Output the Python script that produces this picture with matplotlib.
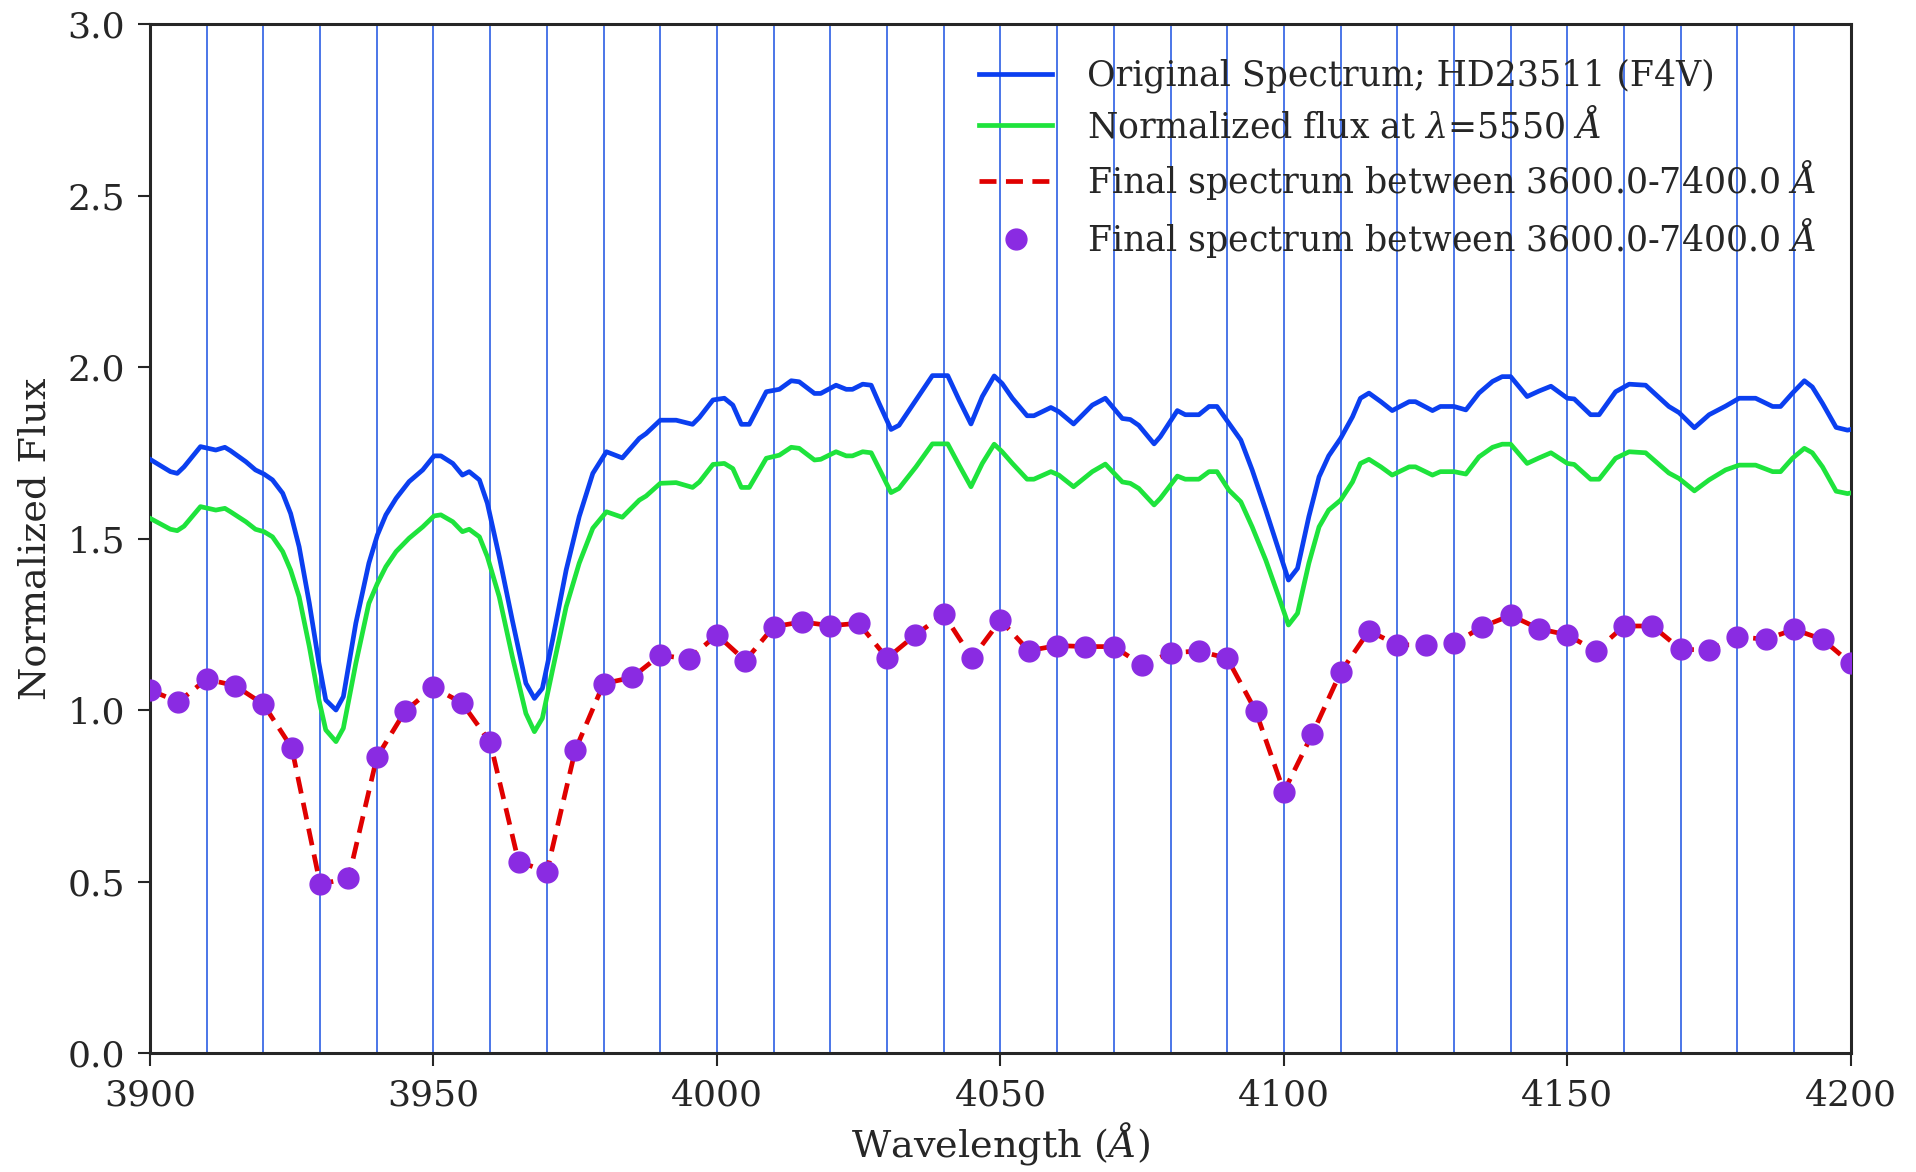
import numpy as np
import matplotlib
matplotlib.use("Agg")
import matplotlib.pyplot as plt

# Original spectrum (blue)
blue_wave = [
    3900.0, 3903.6, 3904.8, 3906.0, 3908.9, 3911.6, 3913.2, 3914.2, 3916.9, 3918.6,
    3920.1, 3921.6, 3923.4, 3924.8, 3926.3, 3928.1, 3929.8, 3931.0, 3932.8, 3934.1,
    3936.3, 3938.6, 3940.1, 3941.6, 3943.4, 3945.7, 3948.1, 3950.1, 3951.3, 3953.4,
    3955.1, 3956.3, 3958.1, 3959.5, 3961.6, 3963.9, 3966.3, 3967.8, 3969.2, 3971.0,
    3973.4, 3975.7, 3978.1,
    3980.5, 3983.3, 3986.3, 3987.5, 3990.0, 3992.8, 3995.7, 3996.9, 3999.3, 4001.3,
    4002.8, 4004.3, 4005.7, 4008.7, 4011.0, 4013.1, 4014.5, 4017.2, 4018.3, 4021.0,
    4022.8, 4023.9, 4025.7, 4027.2, 4028.6, 4030.7, 4032.1, 4035.1, 4038.0, 4040.7,
    4042.7, 4044.8, 4046.8, 4048.9, 4050.3, 4052.1, 4054.7, 4055.9, 4058.9,
    4060.3, 4062.9, 4066.2, 4068.5, 4071.5, 4072.9, 4074.4, 4077.1, 4078.2, 4081.2,
    4082.6, 4085.0, 4086.8, 4088.2, 4090.3, 4092.4, 4094.4, 4096.8, 4099.1, 4100.8,
    4102.4, 4104.4, 4106.2, 4107.9, 4110.0, 4112.1, 4113.5, 4115.0, 4117.1, 4119.1,
    4122.1, 4123.2, 4126.2, 4127.6, 4130.0,
    4132.1, 4134.4, 4136.8, 4138.5, 4140.0, 4142.9, 4145.0, 4147.1, 4150.0, 4151.2,
    4154.1, 4155.6, 4158.5, 4160.9, 4163.8, 4167.9, 4169.7, 4172.4, 4175.0, 4177.9,
    4180.3, 4183.2, 4186.2, 4187.6, 4189.7, 4191.8, 4193.2, 4195.0, 4197.4, 4199.4,
    4200.0,
]
blue_flux = [
    1.731, 1.695, 1.690, 1.709, 1.768, 1.758, 1.766, 1.756, 1.724, 1.700,
    1.688, 1.671, 1.632, 1.573, 1.476, 1.311, 1.136, 1.029, 1.000, 1.039,
    1.253, 1.428, 1.510, 1.569, 1.617, 1.666, 1.700, 1.741, 1.741, 1.719,
    1.685, 1.695, 1.671, 1.603, 1.447, 1.262, 1.078, 1.034, 1.063, 1.204,
    1.408, 1.564, 1.690,
    1.753, 1.735, 1.792, 1.806, 1.845, 1.845, 1.833, 1.853, 1.904, 1.909,
    1.889, 1.833, 1.833, 1.928, 1.935, 1.960, 1.957, 1.923, 1.923, 1.947,
    1.935, 1.935, 1.950, 1.947, 1.894, 1.818, 1.830, 1.904, 1.975, 1.975,
    1.904, 1.834, 1.914, 1.974, 1.952, 1.909, 1.858, 1.858, 1.882,
    1.870, 1.834, 1.889, 1.909, 1.850, 1.847, 1.830, 1.776, 1.797, 1.873,
    1.861, 1.861, 1.885, 1.885, 1.836, 1.787, 1.700, 1.583, 1.466, 1.379,
    1.413, 1.564, 1.680, 1.741, 1.792, 1.855, 1.909, 1.924, 1.899, 1.873,
    1.899, 1.899, 1.873, 1.885, 1.885,
    1.875, 1.924, 1.958, 1.972, 1.972, 1.914, 1.930, 1.944, 1.909, 1.907,
    1.861, 1.861, 1.928, 1.950, 1.947, 1.885, 1.867, 1.823, 1.861, 1.886,
    1.909, 1.909, 1.885, 1.885, 1.924, 1.960, 1.942, 1.894, 1.824, 1.816,
    1.818,
]
# Normalized flux (green), same wavelengths
green_flux = [
    1.559, 1.527, 1.523, 1.536, 1.593, 1.583, 1.588, 1.578, 1.549, 1.527,
    1.520, 1.505, 1.462, 1.408, 1.330, 1.185, 1.029, 0.942, 0.908, 0.947,
    1.136, 1.311, 1.369, 1.418, 1.462, 1.501, 1.534, 1.566, 1.569, 1.549,
    1.520, 1.527, 1.505, 1.447, 1.330, 1.156, 0.990, 0.937, 0.976, 1.117,
    1.301, 1.428, 1.530,
    1.578, 1.562, 1.612, 1.624, 1.661, 1.663, 1.649, 1.665, 1.716, 1.719,
    1.704, 1.649, 1.649, 1.734, 1.743, 1.766, 1.763, 1.729, 1.731, 1.753,
    1.741, 1.741, 1.753, 1.750, 1.704, 1.634, 1.646, 1.709, 1.776, 1.776,
    1.714, 1.651, 1.719, 1.775, 1.753, 1.719, 1.673, 1.673, 1.695,
    1.685, 1.651, 1.695, 1.717, 1.665, 1.661, 1.646, 1.598, 1.617, 1.682,
    1.673, 1.673, 1.695, 1.695, 1.641, 1.607, 1.534, 1.437, 1.330, 1.248,
    1.282, 1.428, 1.534, 1.583, 1.612, 1.665, 1.719, 1.731, 1.709, 1.685,
    1.709, 1.709, 1.685, 1.695, 1.695,
    1.688, 1.738, 1.766, 1.775, 1.775, 1.719, 1.735, 1.750, 1.719, 1.716,
    1.673, 1.673, 1.734, 1.753, 1.750, 1.691, 1.675, 1.639, 1.671, 1.700,
    1.714, 1.714, 1.695, 1.695, 1.734, 1.763, 1.750, 1.709, 1.638, 1.631,
    1.633,
]
# Final spectrum, sampled every 5 A
final_wave = list(range(3900, 4201, 5))
final_flux = [
    1.058, 1.024, 1.090, 1.071, 1.017, 0.890, 0.493, 0.509, 0.862, 0.997,
    1.066, 1.021, 0.906, 0.558, 0.529, 0.883, 1.077, 1.095, 1.160, 1.149,
    1.219, 1.144, 1.243, 1.257, 1.246, 1.253, 1.151, 1.219, 1.279, 1.151,
    1.262, 1.173, 1.188, 1.185, 1.185, 1.131, 1.167, 1.172, 1.151, 0.998,
    0.762, 0.930, 1.110, 1.231, 1.190, 1.190, 1.194, 1.243, 1.276, 1.237,
    1.219, 1.172, 1.245, 1.245, 1.177, 1.175, 1.214, 1.206, 1.235, 1.206,
    1.136,
]
# vertical marker lines
grid_waves = list(range(3910, 4200, 10))

plt.rcParams["font.family"] = ["DejaVu Serif"]
plt.rcParams["mathtext.fontset"] = "dejavuserif"

fig = plt.figure(figsize=(19.16, 11.72), dpi=100)
ax = fig.add_axes([0.0783, 0.1015, 0.8877, 0.878])

for w in grid_waves:
    ax.axvline(w, color="#3d6be6", lw=1.3, zorder=1)

ax.plot(blue_wave, blue_flux, color="#0b3ff0", lw=3.4,
        label="Original Spectrum; HD23511 (F4V)", zorder=3)
ax.plot(blue_wave, green_flux, color="#1ee33c", lw=3.4,
        label=r"Normalized flux at $\lambda$=5550 $\AA$", zorder=3)
ax.plot(final_wave, final_flux, color="#e00000", lw=3.4, ls="--",
        dashes=(3.6, 2.0), label=r"Final spectrum between 3600.0-7400.0 $\AA$", zorder=4)
ax.plot(final_wave, final_flux, ls="none", marker="o", ms=15,
        color="#8a2be2", label=r"Final spectrum between 3600.0-7400.0 $\AA$", zorder=5)

ax.set_xlim(3900, 4200)
ax.set_ylim(0, 3.0)
ax.set_xticks([3900, 3950, 4000, 4050, 4100, 4150, 4200])
ax.set_yticks([0.0, 0.5, 1.0, 1.5, 2.0, 2.5, 3.0])
ax.set_yticklabels(["0.0", "0.5", "1.0", "1.5", "2.0", "2.5", "3.0"])
ax.tick_params(direction="out", length=9, width=1.5, labelsize=26,
               colors="#262626", pad=9)
for s in ax.spines.values():
    s.set_linewidth(2.2)
    s.set_color("#262626")

ax.set_xlabel(r"Wavelength ($\AA$)", fontsize=27.5, color="#262626", labelpad=6)
ax.set_ylabel("Normalized Flux", fontsize=27.5, color="#262626", labelpad=10)

ax.legend(loc="upper right", frameon=False, fontsize=25, handlelength=2.1,
          handletextpad=1.0, labelspacing=0.4, borderaxespad=0.6,
          labelcolor="#262626")

fig.savefig("out.png", dpi=100)
